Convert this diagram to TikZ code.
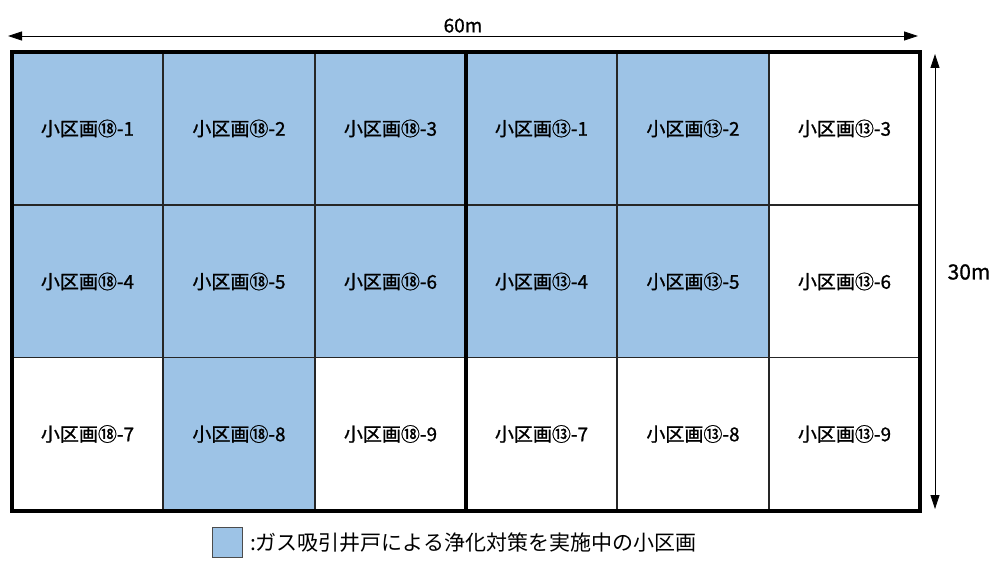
\documentclass[tikz,border=0pt]{standalone}
\usepackage{fontspec}
\setmainfont{Noto Sans CJK JP}
\newfontfamily\cellfont{Noto Sans CJK JP}[RawFeature={embolden=0.9}]
\usetikzlibrary{arrows.meta,positioning}
\definecolor{gasblue}{HTML}{9DC3E6}

\begin{document}
\begin{tikzpicture}[x=1pt, y=-1pt,
    plot/.style={draw=black!85, line width=1.2pt, minimum width=151pt, minimum height=153pt, inner sep=0pt, outer sep=0pt, font=\cellfont\fontsize{19}{19}\selectfont},
    active/.style={plot, fill=gasblue},
    idle/.style={plot, fill=white},
    frame/.style={line width=4pt, line cap=rect},
    dimline/.style={line width=0.8pt, {Triangle[length=14pt,width=9pt]}-{Triangle[length=14pt,width=9pt]}},
    dimtext/.style={font=\cellfont\fontsize{19}{19}\selectfont, inner sep=2pt}
]
    \useasboundingbox (0,0) rectangle (995,583);

    % Block 18
    \node[active] (p18-1) at (87.5, 128.5) {小区画⑱-1};
    \node[active] (p18-2) at (239, 128.5) {小区画⑱-2};
    \node[active] (p18-3) at (390.5, 128.5) {小区画⑱-3};
    \node[active] (p18-4) at (87.5, 281.5) {小区画⑱-4};
    \node[active] (p18-5) at (239, 281.5) {小区画⑱-5};
    \node[active] (p18-6) at (390.5, 281.5) {小区画⑱-6};
    \node[idle] (p18-7) at (87.5, 434) {小区画⑱-7};
    \node[active] (p18-8) at (239, 434) {小区画⑱-8};
    \node[idle] (p18-9) at (390.5, 434) {小区画⑱-9};

    % Block 13
    \node[active] (p13-1) at (541.5, 128.5) {小区画⑬-1};
    \node[active] (p13-2) at (693, 128.5) {小区画⑬-2};
    \node[idle] (p13-3) at (844.5, 128.5) {小区画⑬-3};
    \node[active] (p13-4) at (541.5, 281.5) {小区画⑬-4};
    \node[active] (p13-5) at (693, 281.5) {小区画⑬-5};
    \node[idle] (p13-6) at (844.5, 281.5) {小区画⑬-6};
    \node[idle] (p13-7) at (541.5, 434) {小区画⑬-7};
    \node[idle] (p13-8) at (693, 434) {小区画⑬-8};
    \node[idle] (p13-9) at (844.5, 434) {小区画⑬-9};

    \draw[frame] (p18-1.north west) rectangle (p13-9.south east);
    \draw[frame] (p18-3.north east) -- (p18-9.south east);

    % Dimensions
    \coordinate (wl) at (8, 36);
    \coordinate (wr) at (918, 36);
    \draw[dimline] (wl) -- node[dimtext, above=1pt] {60m} (wr);
    \coordinate (ht) at (935, 54);
    \coordinate (hb) at (935, 509);
    \draw[dimline] (ht) -- (hb);
    \node[dimtext, font=\cellfont\fontsize{21}{21}\selectfont] (hlabel) at (969, 272) {30m};

    % Legend
    \node[draw=black!70, line width=0.8pt, fill=gasblue, minimum size=30pt, inner sep=0pt] (key) at (227.5, 542.5) {};
    \node[right=7pt of key, font=\fontsize{21}{21}\selectfont, inner sep=0pt] (keytext) {:ガス吸引井戸による浄化対策を実施中の小区画};
\end{tikzpicture}
\end{document}
